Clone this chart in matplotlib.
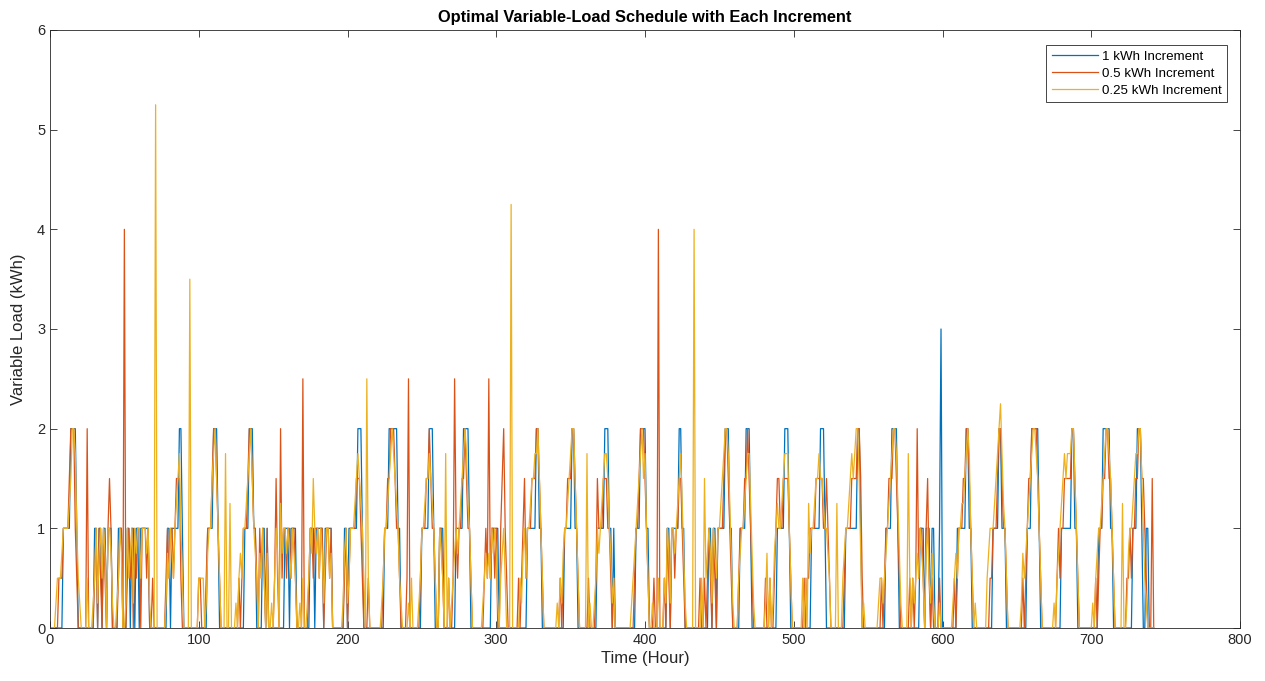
import numpy as np
import matplotlib
matplotlib.use("Agg")
import matplotlib.pyplot as plt

plt.rcParams['font.family'] = ['Liberation Sans', 'DejaVu Sans']

# hourly values, grouped roughly by day
# 1 kWh series: digits are kWh
blue_days = [
    "000000000111112222100000", "000000110110110111000011", "100011011011011111100000",
    "00000001101111122100000", "000000000001111222100000", "000000000000111222110000",
    "110100000000000111011110", "000000001110111110111110", "00000001101111112221000",
    "000000000001112222221100", "000000000000111112221000", "111000000001111122221000",
    "00000000000111110000000", "000000000000111111221100", "000000000000011111221100",
    "000000000001111122211010", "000000000000011122221100", "00000000001101111122110",
    "000000000000000110110111", "112221100000111122210000", "000000000000011111222100",
    "00000000000011111122210", "000000000000111111112210", "000000000000000111122221",
    "000000000000001110111011", "000130000000000111111221", "10000000000000011112211",
    "100000000000000111222221", "000000000000001111111221", "100000000000000111222221",
    "10000000000000111222100", "110000",
]
# 0.5 kWh series: digits are multiples of 0.5 kWh
orange_days = [
    "000000111222234442100000", "040000120210210232000012", "208012120212202221200100",
    "00000012122123331000000", "000001100012223443210000", "000000001012223443221021",
    "210200001310412212212210", "000500012212221220122120", "00000001201222233321000",
    "100000000012233444322100", "001500000001222334322100", "221000100152122334322100",
    "00000012151221200234210", "000000101231222333443210", "000000000010122333443210",
    "000001000013222333221010", "000000000000122344432100", "01008000102102212233210",
    "000000000100101210210222", "234432100001222334321000", "000001001001233223333210",
    "00000001011222233333223", "210000000001222233334431", "000000000000101223334432",
    "100000010101412210231010", "000100000000010122233443", "21000000000001122234432",
    "210000000000101233444432", "100000000001212233333443", "210000000000010122334433",
    "21000000001121223344332", "100030",
]
# 0.25 kWh series: base-36 chars are multiples of 0.25 kWh
yellow_days = [
    "000012223444456887421000", "020001241342430443100124", "30014234143442444341000l",
    "0000001324324567420000e", "000002222013446786420007", "005000102324456786432032",
    "420300102430534434324320", "010200124364342431344230", "0000001341244456765420a",
    "200000000124456787654210", "000102000012445667654200", "432070201234345678754200",
    "00000123232434310234200", "0h0000021342445667786420", "000000001021344567886420",
    "000070100124345677643120", "000000000012345678674200", "10002000214314434567531",
    "00000g000020623431432445", "678875310002344567753100", "000001302013454456777420",
    "00000020205344566766544", "320000500023445676788630", "100000000012212345678875",
    "310000720212324320342131", "000100000000123244556787", "42010000000234445678975",
    "420000000001323456788764", "200000000102345676777886", "420000000001023445678876",
    "42000005001344567788642", "100000",
]

blue = np.array([int(c) for c in "".join(blue_days)], dtype=float)
orange = np.array([int(c) for c in "".join(orange_days)], dtype=float) * 0.5
yellow = np.array([int(c, 36) for c in "".join(yellow_days)], dtype=float) * 0.25

labels = ["1 kWh Increment", "0.5 kWh Increment", "0.25 kWh Increment"]
colors = ["#0072BD", "#D95319", "#EDB120"]

fig = plt.figure(figsize=(12.65, 6.81), dpi=100)
ax = fig.add_axes([50 / 1265, 53 / 681, 1190 / 1265, 598 / 681])

for y, lab, col in zip([blue, orange, yellow], labels, colors):
    ax.plot(np.arange(len(y)), y, color=col, lw=0.9, label=lab)

ax.set_xlim(0, 800)
ax.set_ylim(0, 6)
ax.set_xticks(range(0, 801, 100))
ax.set_yticks(range(0, 7))
ax.tick_params(direction='in', top=True, right=True, labelsize=10.5,
               colors='#262626', length=5, width=0.6)
for sp in ax.spines.values():
    sp.set_color('#262626')
    sp.set_linewidth(0.6)

ax.set_xlabel("Time (Hour)", fontsize=12, color='#262626', labelpad=3)
ax.set_ylabel("Variable Load (kWh)", fontsize=12, color='#262626', labelpad=8)
ax.set_title("Optimal Variable-Load Schedule with Each Increment",
             fontsize=11.75, fontweight='bold', color='black', pad=6)

leg = ax.legend(loc='upper right', bbox_to_anchor=(0.989, 0.975), borderaxespad=0,
                fontsize=9.6, fancybox=False, framealpha=1, edgecolor='#262626',
                handlelength=3.5, borderpad=0.4, labelspacing=0.36, handletextpad=0.25)
leg.get_frame().set_linewidth(0.6)

fig.savefig("out.png", dpi=100)
